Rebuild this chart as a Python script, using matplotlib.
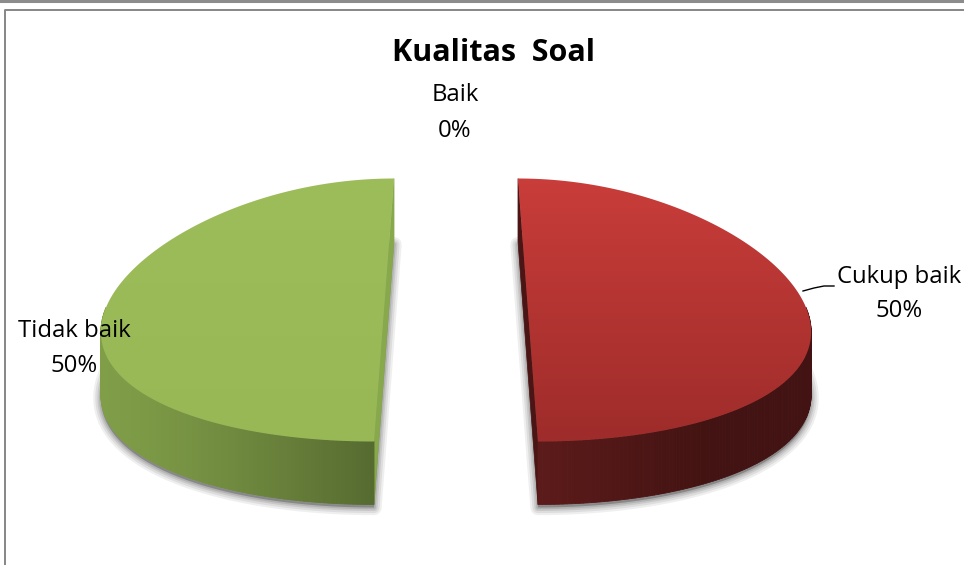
import numpy as np
import matplotlib
matplotlib.use("Agg")
import matplotlib.pyplot as plt
from matplotlib.patches import Polygon
from matplotlib.lines import Line2D

# ---------------- data ----------------
title = "Kualitas  Soal"
categories = ["Baik", "Cukup baik", "Tidak baik"]
values = [0, 50, 50]
pct_labels = ["0%", "50%", "50%"]

# colours (top face top / top face bottom / wall light / wall dark)
top_colors = {"Cukup baik": ((201, 61, 58), (158, 44, 42)),
              "Tidak baik": ((157, 189, 91), (152, 184, 86))}
wall_colors = {"Cukup baik": ((92, 27, 26), (66, 19, 18)),
               "Tidak baik": ((128, 158, 72), (86, 106, 48))}
cut_colors = {"Cukup baik": (74, 21, 20), "Tidak baik": (136, 168, 76)}

# ---------------- layout ----------------
W, H = 964, 565
CX, CY = 456, 310        # pie centre (px)
A, B = 279, 131.5        # semi axes (px)
K = 0.139                # perspective narrowing
DEPTH = 63               # thickness (px)
EXPLODE = 0.258

plt.rcParams['font.family'] = ['Open Sans', 'DejaVu Sans']

fig = plt.figure(figsize=(W / 100, H / 100), dpi=100)
ax = fig.add_axes([0, 0, 1, 1])
ax.set_xlim(0, W)
ax.set_ylim(H, 0)
ax.axis('off')


def proj(u, v, z=0.0):
    x = CX + A * u * (1 - K * v)
    y = CY - B * v + z
    return x, y


def rgb(c):
    return tuple(ch / 255 for ch in c)


def mix(c1, c2, t):
    return tuple((1 - t) * a + t * b for a, b in zip(c1, c2))


total = float(sum(values))
start = 90.0
slices = []
for cat, val in zip(categories, values):
    sweep = val / total * 360.0
    t1, t2 = start - sweep, start
    start -= sweep
    if val == 0:
        continue
    mid = np.deg2rad((t1 + t2) / 2)
    ou, ov = EXPLODE * np.cos(mid), EXPLODE * np.sin(mid)
    th = np.deg2rad(np.linspace(t1, t2, 240))
    slices.append((cat, th, ou, ov))

# ---------- soft shadows (of the bottom face) ----------
for cat, th, ou, ov in slices:
    au = np.concatenate([ou + np.cos(th), [ou + np.cos(th[0])]])
    av = np.concatenate([ov + np.sin(th), [ov + np.sin(th[0])]])
    xb, yb = proj(au, av, DEPTH + 3)
    pts = np.column_stack([xb, yb])
    for lw, al in [(11, 0.10), (8, 0.13), (5, 0.17), (2.5, 0.22)]:
        ax.add_patch(Polygon(pts, closed=True, facecolor='none', edgecolor='#666666',
                             linewidth=lw, alpha=al, joinstyle='round', zorder=1))
    ax.add_patch(Polygon(pts, closed=True, facecolor='#7a7a7a', edgecolor='none',
                         alpha=0.75, zorder=1))

# ---------- cut faces ----------
for cat, th, ou, ov in slices:
    pu = ou + np.array([np.cos(th[0]), np.cos(th[-1])])
    pv = ov + np.array([np.sin(th[0]), np.sin(th[-1])])
    x1, y1 = proj(pu, pv, 0)
    x2, y2 = proj(pu, pv, DEPTH)
    poly = np.array([[x1[0], y1[0]], [x1[1], y1[1]], [x2[1], y2[1]], [x2[0], y2[0]]])
    ax.add_patch(Polygon(poly, closed=True, facecolor=rgb(cut_colors[cat]),
                         edgecolor=rgb(cut_colors[cat]), linewidth=0.5, zorder=2))

# ---------- outer walls (near side only) ----------
for cat, th, ou, ov in slices:
    c_light, c_dark = wall_colors[cat]
    tw = th[np.sin(th) <= 0.03]
    au = ou + np.cos(tw)
    av = ov + np.sin(tw)
    x_top, y_top = proj(au, av, 0)
    x_bot, y_bot = proj(au, av, DEPTH)
    xmin, xmax = x_top.min(), x_top.max()
    for i in range(len(tw) - 1):
        t = ((x_top[i] + x_top[i + 1]) / 2 - xmin) / (xmax - xmin)
        if ou > 0:
            col = mix(c_light, c_dark, min(1, t * 1.6))
        else:
            col = mix(c_light, c_dark, t ** 1.3)
        quad = [[x_top[i], y_top[i]], [x_top[i + 1], y_top[i + 1]],
                [x_bot[i + 1], y_bot[i + 1]], [x_bot[i], y_bot[i]]]
        ax.add_patch(Polygon(quad, closed=True, facecolor=rgb(col),
                             edgecolor=rgb(col), linewidth=0.6, zorder=3))

# ---------- top faces ----------
for cat, th, ou, ov in slices:
    c_top, c_bot = top_colors[cat]
    au = ou + np.cos(th)
    av = ov + np.sin(th)
    x_top, y_top = proj(au, av, 0)
    pts = np.column_stack([x_top, y_top])
    poly = Polygon(pts, closed=True, facecolor='none', edgecolor='none', zorder=4)
    ax.add_patch(poly)
    ymin, ymax = y_top.min(), y_top.max()
    n = 256
    tt = np.linspace(0, 1, n)[:, None]
    grad = np.array(c_top)[None, :] * (1 - tt) + np.array(c_bot)[None, :] * tt
    img = np.repeat(grad[:, None, :] / 255, 2, axis=1)
    im = ax.imshow(img, extent=[x_top.min() - 2, x_top.max() + 2, ymax + 1, ymin - 1],
                   aspect='auto', zorder=4, interpolation='bilinear')
    im.set_clip_path(poly)

ax.set_xlim(0, W)
ax.set_ylim(H, 0)

# ---------- frame ----------
ax.add_line(Line2D([0, W], [1, 1], color='#8c8c8c', linewidth=2.2, zorder=10))
ax.add_line(Line2D([5, 5, W + 5], [H + 5, 9.5, 9.5], color='#868686', linewidth=1.4, zorder=10))

# ---------- text ----------
ax.text(493, 53, title, ha='center', va='center', fontsize=22, fontweight='bold',
        color='black', zorder=11)

label_pos = {"Baik": (455, 95, 131), "Cukup baik": (899, 277, 311), "Tidak baik": (74, 331, 366)}
for cat, pct in zip(categories, pct_labels):
    x, y1, y2 = label_pos[cat]
    ax.text(x, y1, cat, ha='center', va='center', fontsize=17.2, color='black', zorder=11)
    ax.text(x, y2, pct, ha='center', va='center', fontsize=17.2, color='black', zorder=11)

# leader line for Cukup baik
ax.add_line(Line2D([803, 814, 824, 834], [291, 288, 286, 286], color='black', linewidth=1.0, zorder=11))

fig.savefig("out.png", dpi=100)
